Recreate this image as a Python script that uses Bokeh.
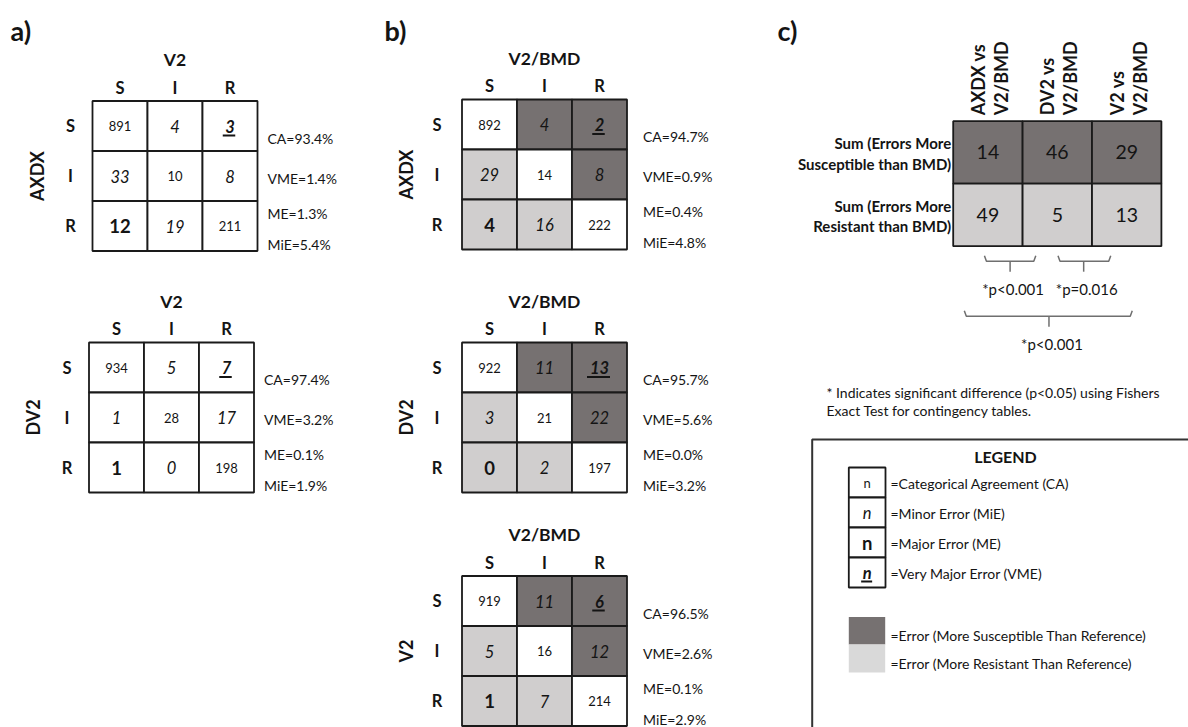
import math
from bokeh.plotting import figure
from bokeh.models import Range1d, ColumnDataSource
from bokeh.core.properties import value
from bokeh.embed import file_html
from bokeh.resources import INLINE

# ---------------- data ----------------
categories = ["S", "I", "R"]

# panel a: test method (rows) vs V2 (columns)
axdx_vs_v2 = [[891, 4, 3], [33, 10, 8], [12, 19, 211]]
dv2_vs_v2 = [[934, 5, 7], [1, 28, 17], [1, 0, 198]]
# panel b: test method (rows) vs V2/BMD (columns)
axdx_vs_bmd = [[892, 4, 2], [29, 14, 8], [4, 16, 222]]
dv2_vs_bmd = [[922, 11, 13], [3, 21, 22], [0, 2, 197]]
v2_vs_bmd = [[919, 11, 6], [5, 16, 12], [1, 7, 214]]

stat_names = ["CA", "VME", "ME", "MiE"]
axdx_vs_v2_stats = [93.4, 1.4, 1.3, 5.4]
dv2_vs_v2_stats = [97.4, 3.2, 0.1, 1.9]
axdx_vs_bmd_stats = [94.7, 0.9, 0.4, 4.8]
dv2_vs_bmd_stats = [95.7, 5.6, 0.0, 3.2]
v2_vs_bmd_stats = [96.5, 2.6, 0.1, 2.9]

# panel c
comparisons = ["AXDX vs V2/BMD", "DV2 vs V2/BMD", "V2 vs V2/BMD"]
sum_more_susceptible = [14, 46, 29]
sum_more_resistant = [49, 5, 13]
c_row_labels = [["Sum (Errors More", "Susceptible than BMD)"],
                ["Sum (Errors More", "Resistant than BMD)"]]
pvalue_labels = ["*p<0.001", "*p=0.016", "*p<0.001"]

footnote = ["* Indicates significant difference (p<0.05) using Fishers",
            "Exact Test for contingency tables."]
legend_cell_items = ["=Categorical Agreement (CA)", "=Minor Error (MiE)",
                     "=Major Error (ME)", "=Very Major Error (VME)"]
legend_colour_items = ["=Error (More Susceptible Than Reference)",
                       "=Error (More Resistant Than Reference)"]

# ---------------- style ----------------
FONT = "Lato"
TEXT = "#141414"
DARK = "#767171"
LIGHT = "#D0CECE"
LIGHT_SW = "#D9D9D9"
GRID = "#1a1a1a"

W, H = 1188, 727
p = figure(width=W, height=H, x_range=Range1d(0, W), y_range=Range1d(H, 0),
           output_backend="svg", toolbar_location=None, min_border=0,
           x_axis_type=None, y_axis_type=None)
p.grid.visible = False
p.outline_line_color = None
p.background_fill_color = "white"
p.border_fill_color = "white"

texts = {}


def add_text(x, y, s, size, style="normal", align="center", angle=0.0, color=TEXT):
    d = texts.setdefault((style, align), dict(x=[], y=[], text=[], size=[], angle=[], color=[]))
    d["x"].append(x)
    d["y"].append(y)
    d["text"].append(s)
    d["size"].append(size)
    d["angle"].append(angle)
    d["color"].append(color)


quads = dict(left=[], right=[], top=[], bottom=[], fill=[])
underlines = dict(x0=[], y0=[], x1=[], y1=[])


def cell_style(r, c):
    if r == c:
        return "normal", "13px", False
    if r == 0 and c == 2:
        return "bold italic", "16.5px", True
    if r == 2 and c == 0:
        return "bold", "18.5px", False
    return "italic", "16.5px", False


panels = [
    dict(counts=axdx_vs_v2, stats=axdx_vs_v2_stats, test="AXDX", ref="V2",
         left=92, top=100.5, shade=False, stat_dx=10, row_dx=-22),
    dict(counts=dv2_vs_v2, stats=dv2_vs_v2_stats, test="DV2", ref="V2",
         left=88.5, top=342, shade=False, stat_dx=10, row_dx=-22),
    dict(counts=axdx_vs_bmd, stats=axdx_vs_bmd_stats, test="AXDX", ref="V2/BMD",
         left=461.5, top=99, shade=True, stat_dx=16, row_dx=-25),
    dict(counts=dv2_vs_bmd, stats=dv2_vs_bmd_stats, test="DV2", ref="V2/BMD",
         left=461.5, top=342, shade=True, stat_dx=16, row_dx=-25),
    dict(counts=v2_vs_bmd, stats=v2_vs_bmd_stats, test="V2", ref="V2/BMD",
         left=461.5, top=575.5, shade=True, stat_dx=16, row_dx=-25),
]
CW, CH = 55, 50
stat_dy = [37, 77, 112, 143]

for pn in panels:
    L, T = pn["left"], pn["top"]
    for r in range(3):
        for c in range(3):
            fill = "white"
            if pn["shade"]:
                if r < c:
                    fill = DARK
                elif r > c:
                    fill = LIGHT
            quads["left"].append(L + c * CW)
            quads["right"].append(L + (c + 1) * CW)
            quads["top"].append(T + r * CH)
            quads["bottom"].append(T + (r + 1) * CH)
            quads["fill"].append(fill)
            style, size, ul = cell_style(r, c)
            cx = L + (c + 0.5) * CW
            cy = T + (r + 0.5) * CH
            s = str(pn["counts"][r][c])
            add_text(cx, cy, s, size, style)
            if ul:
                w = len(s) * 10.5 + 2
                underlines["x0"].append(cx - w / 2 - 1)
                underlines["x1"].append(cx + w / 2 - 1)
                underlines["y0"].append(cy + 9.5)
                underlines["y1"].append(cy + 9.5)
    # headers
    add_text(L + 1.5 * CW, T - 41.5, pn["ref"], "17.5px", "bold")
    for i, cat in enumerate(categories):
        add_text(L + (i + 0.5) * CW, T - 13.5, cat, "16.5px", "bold")
        add_text(L + pn["row_dx"], T + (i + 0.5) * CH, cat, "16.5px", "bold")
    add_text(L - 56, T + 1.5 * CH, pn["test"], "18px", "bold", angle=math.pi / 2)
    for name, v, dy in zip(stat_names, pn["stats"], stat_dy):
        add_text(L + 3 * CW + pn["stat_dx"], T + dy, f"{name}={v:.1f}%", "14px", "normal", "left")

# panel letters
for lab, x in zip(["a)", "b)", "c)"], [10, 384, 777]):
    add_text(x, 30, lab, "27px", "bold", "left")

# ---------------- panel c ----------------
CL, CT, CCW, CCH = 952.7, 120.7, 69.4, 62.5
for i, comp in enumerate(comparisons):
    for r, (vals, fill) in enumerate([(sum_more_susceptible, DARK), (sum_more_resistant, LIGHT)]):
        quads["left"].append(CL + i * CCW)
        quads["right"].append(CL + (i + 1) * CCW)
        quads["top"].append(CT + r * CCH)
        quads["bottom"].append(CT + (r + 1) * CCH)
        quads["fill"].append(fill)
        add_text(CL + (i + 0.5) * CCW, CT + (r + 0.5) * CCH, str(vals[i]), "19.5px", "normal")
    a, b = comp.split(" vs ")
    cx = CL + (i + 0.5) * CCW + 1.5
    add_text(cx - 11.5, CT - 6, a + " vs", "18px", "bold", "left", angle=math.pi / 2)
    add_text(cx + 11.5, CT - 6, b, "18px", "bold", "left", angle=math.pi / 2)
for r, lines in enumerate(c_row_labels):
    cy = CT + (r + 0.5) * CCH
    add_text(CL - 2, cy - 9, lines[0], "15px", "bold", "right")
    add_text(CL - 2, cy + 11.5, lines[1], "15px", "bold", "right")

# brackets (in column units)
CB = CT + 2 * CCH
bracket_spans = [(0.45, 1.19, 0.82, 9.5), (1.51, 2.27, 1.88, 9.5), (0.16, 2.58, 1.38, 64.5)]
bx, by = [], []
for (u0, u1, us, dy), lab in zip(bracket_spans, pvalue_labels):
    x0, x1, xs = CL + u0 * CCW, CL + u1 * CCW, CL + us * CCW
    yt, yl, ys = CB + dy, CB + dy + 5.5, CB + dy + 16
    bx.append([x0, x0 + 2, x1 - 2, x1])
    by.append([yt, yl, yl, yt])
    bx.append([xs, xs])
    by.append([yl, ys])
    add_text(xs + 3, CB + dy + 33, lab, "15px", "normal")
p.multi_line(xs=bx, ys=by, line_color="#6f6f6f", line_width=1.5)

# footnote
add_text(826, 391.7, footnote[0], "14px", "normal", "left")
add_text(826, 410, footnote[1], "14px", "normal", "left")

# legend box
p.quad(left=[811.7], right=[1210], top=[439], bottom=[745], fill_color=None,
       line_color="#333333", line_width=2)
add_text(1005, 455.7, "LEGEND", "16px", "bold")
LX0, LX1, LY0, LH = 848.3, 885, 467, 30
for k, item in enumerate(legend_cell_items):
    quads["left"].append(LX0)
    quads["right"].append(LX1)
    quads["top"].append(LY0 + k * LH)
    quads["bottom"].append(LY0 + (k + 1) * LH)
    quads["fill"].append("white")
    style, size, ul = cell_style(*[(0, 0), (0, 1), (2, 0), (0, 2)][k])
    cy = LY0 + (k + 0.5) * LH
    add_text((LX0 + LX1) / 2, cy, "n", size, style)
    if ul:
        underlines["x0"].append((LX0 + LX1) / 2 - 6)
        underlines["x1"].append((LX0 + LX1) / 2 + 5)
        underlines["y0"].append(cy + 9)
        underlines["y1"].append(cy + 9)
    add_text(890, cy + 1, item, "14px", "normal", "left")

sw = dict(left=[848.3, 848.3], right=[884.7, 884.7], top=[616.5, 644], bottom=[644, 672],
          fill=[DARK, LIGHT_SW])
p.quad(left="left", right="right", top="top", bottom="bottom", fill_color="fill",
       line_color=None, source=ColumnDataSource(sw))
for k, item in enumerate(legend_colour_items):
    add_text(890, 635 + k * 28.3, item, "14px", "normal", "left")

# draw cells
p.quad(left="left", right="right", top="top", bottom="bottom", fill_color="fill",
       line_color=GRID, line_width=1.8, source=ColumnDataSource(quads))
p.segment(x0="x0", y0="y0", x1="x1", y1="y1", line_color=TEXT, line_width=2,
          source=ColumnDataSource(underlines))

for (style, align), d in texts.items():
    p.text(x="x", y="y", text="text", angle="angle", source=ColumnDataSource(d),
           text_font=value(FONT), text_font_size="size", text_font_style=style,
           text_align=align, text_baseline="middle", text_color="color")

open("out.html", "w").write(file_html(p, INLINE))
